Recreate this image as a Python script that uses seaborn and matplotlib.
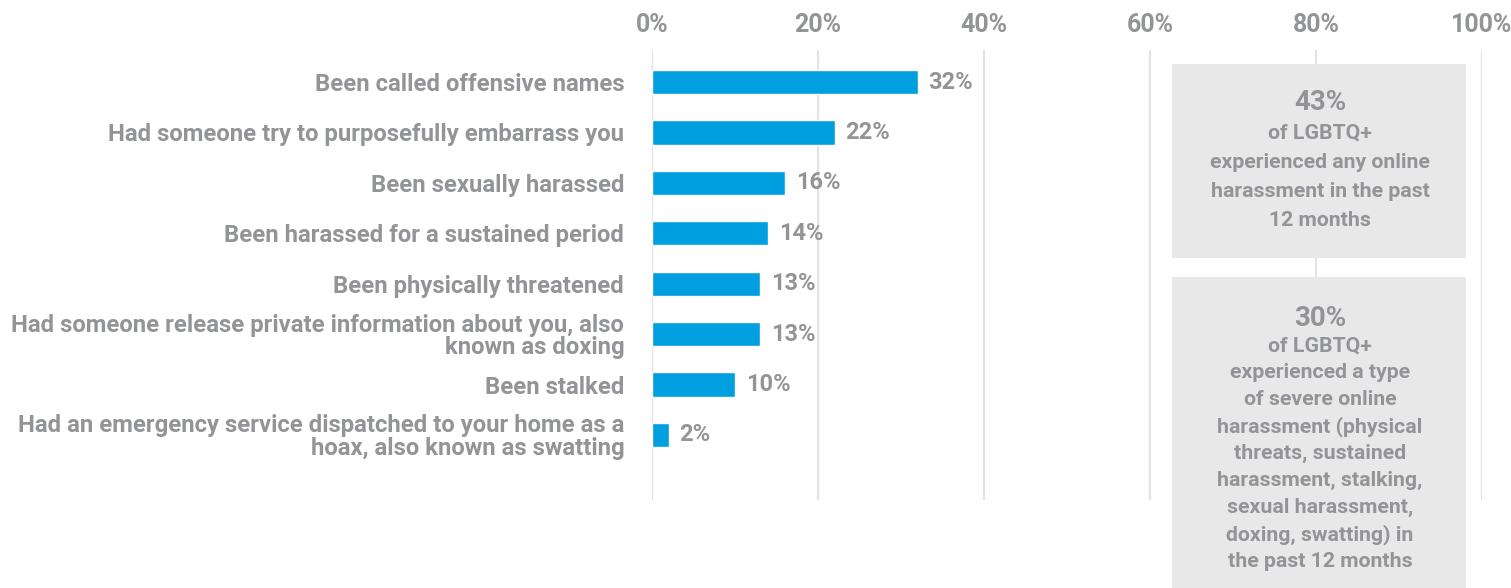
import numpy as np
import pandas as pd
import seaborn as sns
import matplotlib.pyplot as plt
from matplotlib.patches import Rectangle

# data
categories = [
    "Been called offensive names",
    "Had someone try to purposefully embarrass you",
    "Been sexually harassed",
    "Been harassed for a sustained period",
    "Been physically threatened",
    "Had someone release private information about you, also\nknown as doxing",
    "Been stalked",
    "Had an emergency service dispatched to your home as a\nhoax, also known as swatting",
]
values = [32, 22, 16, 14, 13, 13, 10, 2]
x_ticks = [0, 20, 40, 60, 80, 100]

box1_big = "43%"
box1_lines = ["of LGBTQ+", "experienced any online", "harassment in the past", "12 months"]
box2_big = "30%"
box2_lines = ["of LGBTQ+", "experienced a type", "of severe online", "harassment (physical",
              "threats, sustained", "harassment, stalking,", "sexual harassment,",
              "doxing, swatting) in", "the past 12 months"]

df = pd.DataFrame({"item": categories, "pct": values})

sns.set_theme(style="white")
plt.rcParams["font.family"] = ["Roboto", "DejaVu Sans"]
plt.rcParams["font.weight"] = "bold"

GREY = "#939498"
BLUE = "#009FDF"
W, H = 1511, 588


def fx(x):
    return x / W


def fy(y):
    return 1 - y / H


fig = plt.figure(figsize=(15.11, 5.88), dpi=100)
ax = fig.add_axes([fx(652), fy(500), fx(1482) - fx(652), fy(50) - fy(500)])

sns.barplot(data=df, x="pct", y="item", orient="h", color=BLUE, width=0.48,
            saturation=1, ax=ax, zorder=3)

ax.set_xlim(0, 100)
ax.set_ylim(8.29, -0.635)
ax.set_xticks(x_ticks)
ax.set_xticklabels([f"{t}%" for t in x_ticks], fontsize=18, color=GREY, fontweight="bold")
ax.xaxis.tick_top()
ax.tick_params(axis="x", length=0, pad=9)
ax.tick_params(axis="y", length=0, pad=20)
for lab in ax.get_yticklabels():
    lab.set_fontsize(17.2)
    lab.set_color(GREY)
    lab.set_fontweight("bold")
    lab.set_linespacing(0.95)
ax.set_xlabel("")
ax.set_ylabel("")
ax.grid(axis="x", color="#e3e3e3", linewidth=1.5, zorder=0)
ax.set_axisbelow(True)
for s in ax.spines.values():
    s.set_visible(False)

# value labels
for i, v in enumerate(values):
    ax.text(v + 1.3, i, f"{v}%", va="center", ha="left", fontsize=17,
            color=GREY, fontweight="bold")

# grey call-out boxes
fig.patches.append(Rectangle((fx(1172), fy(258)), fx(1466) - fx(1172), fy(64) - fy(258),
                             transform=fig.transFigure, facecolor="#e8e8e8",
                             edgecolor="none", zorder=2))
fig.patches.append(Rectangle((fx(1172), fy(600)), fx(1466) - fx(1172), fy(277) - fy(600),
                             transform=fig.transFigure, facecolor="#e8e8e8",
                             edgecolor="none", zorder=2))

cx = fx(1320)
fig.text(cx, fy(102), box1_big, ha="center", va="center", fontsize=20,
         color=GREY, fontweight="bold", zorder=3)
for k, line in enumerate(box1_lines):
    fig.text(cx, fy(133 + 29.3 * k), line, ha="center", va="center", fontsize=15.3,
             color=GREY, fontweight="bold", zorder=3)

fig.text(cx, fy(319), box2_big, ha="center", va="center", fontsize=20,
         color=GREY, fontweight="bold", zorder=3)
for k, line in enumerate(box2_lines):
    fig.text(cx, fy(346 + 26.9 * k), line, ha="center", va="center", fontsize=15.3,
             color=GREY, fontweight="bold", zorder=3)

fig.savefig("out.png", dpi=100)
